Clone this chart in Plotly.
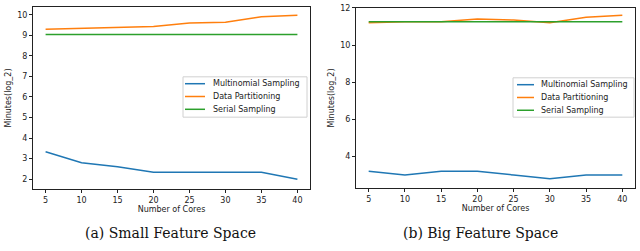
import plotly.graph_objects as go

cores = [5, 10, 15, 20, 25, 30, 35, 40]

small_multinomial = [3.33, 2.8, 2.6, 2.33, 2.33, 2.33, 2.33, 2.0]
small_partition = [9.3, 9.35, 9.4, 9.43, 9.6, 9.63, 9.9, 9.97]
small_serial = [9.04] * 8

big_multinomial = [3.2, 3.0, 3.2, 3.2, 3.0, 2.8, 3.0, 3.0]
big_partition = [11.2, 11.25, 11.25, 11.4, 11.35, 11.2, 11.5, 11.6]
big_serial = [11.25] * 8

series_names = ["Multinomial Sampling", "Data Partitioning", "Serial Sampling"]
colors = ["#1f77b4", "#ff7f0e", "#2ca02c"]
captions = ["(a) Small Feature Space", "(b) Big Feature Space"]

W, H = 640, 251
fig = go.Figure()

for data, xa, ya in [
    ([small_multinomial, small_partition, small_serial], "x", "y"),
    ([big_multinomial, big_partition, big_serial], "x2", "y2"),
]:
    for name, vals, c in zip(series_names, data, colors):
        fig.add_trace(go.Scatter(x=cores, y=vals, mode="lines", name=name,
                                 line=dict(color=c, width=1.5),
                                 xaxis=xa, yaxis=ya, showlegend=False,
                                 hoverinfo="skip"))

def px_x(p):
    return p / W

def px_y(p):
    return (H - p) / H

font8 = dict(family="DejaVu Sans", size=8, color="#222")
axis_common = dict(showgrid=False, zeroline=False, showline=True, linecolor="#222",
                   linewidth=1, mirror=True, ticks="outside", ticklen=3,
                   tickcolor="#222", tickfont=font8, ticklabeloverflow="allow")

fig.update_layout(
    width=W, height=H, margin=dict(l=0, r=0, t=0, b=0),
    plot_bgcolor="white", paper_bgcolor="white",
    showlegend=False,
    xaxis=dict(domain=[px_x(33), px_x(310)], range=[3.25, 41.75],
               tickvals=cores, anchor="y",
               title=dict(text="Number of Cores", font=font8, standoff=2),
               **axis_common),
    yaxis=dict(domain=[px_y(188), px_y(3)], range=[1.52, 10.38],
               tickvals=[2, 3, 4, 5, 6, 7, 8, 9, 10], anchor="x",
               title=dict(text="Minutes(log_2)", font=font8, standoff=4),
               **axis_common),
    xaxis2=dict(domain=[px_x(356), px_x(635)], range=[3.25, 41.75],
                tickvals=cores, anchor="y2",
                title=dict(text="Number of Cores", font=font8, standoff=2),
                **axis_common),
    yaxis2=dict(domain=[px_y(187), px_y(4)], range=[2.3, 12.0],
                tickvals=[4, 6, 8, 10, 12], anchor="x2",
                title=dict(text="Minutes(log_2)", font=font8, standoff=4),
                **axis_common),
)

# Manual legends (matplotlib style compact boxes)
legend_boxes = [
    dict(x0=183, x1=307, y0=74, y1=115, sw0=185, sw1=205, tx=211),
    dict(x0=513, x1=634, y0=75, y1=115, sw0=517, sw1=534, tx=539),
]
row_y = [81, 94, 107]
for lb in legend_boxes:
    fig.add_shape(type="rect", xref="paper", yref="paper",
                  x0=px_x(lb["x0"]), x1=px_x(lb["x1"]), y0=px_y(lb["y1"]), y1=px_y(lb["y0"]),
                  line=dict(color="#d0d0d0", width=1), fillcolor="white", layer="above")
    for k, (name, c) in enumerate(zip(series_names, colors)):
        ry = row_y[k] + (lb["y0"] - 74)
        fig.add_shape(type="line", xref="paper", yref="paper",
                      x0=px_x(lb["sw0"]), x1=px_x(lb["sw1"]), y0=px_y(ry), y1=px_y(ry),
                      line=dict(color=c, width=1.5), layer="above")
        fig.add_annotation(text=name, x=px_x(lb["tx"]), y=px_y(ry), xref="paper", yref="paper",
                           showarrow=False, xanchor="left", yanchor="middle", font=font8)

for text, cx in zip(captions, [170, 480]):
    fig.add_annotation(text=text, x=px_x(cx), y=px_y(233), xref="paper", yref="paper",
                       showarrow=False, xanchor="center", yanchor="middle",
                       font=dict(family="DejaVu Serif", size=14, color="#111"))

fig.write_html("out.html", config={"displayModeBar": False},
               post_script="document.body.style.margin='0';")
